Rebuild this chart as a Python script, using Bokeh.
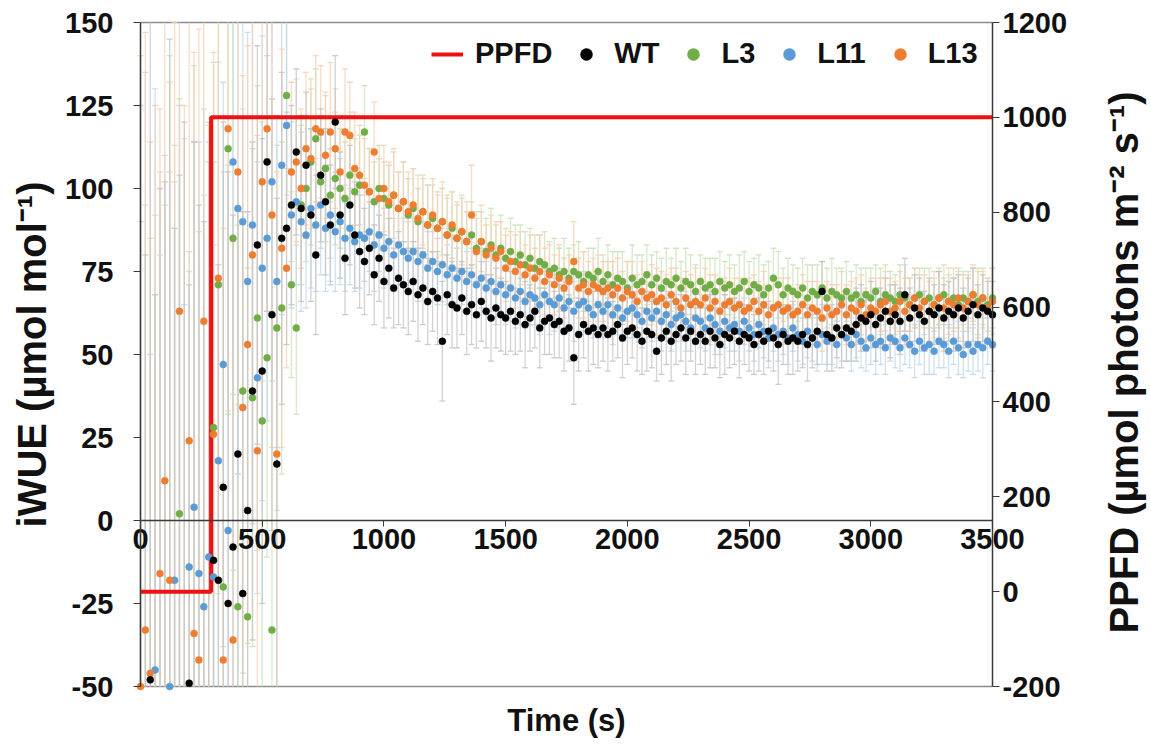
import math
from bokeh.plotting import figure
from bokeh.models import Range1d, LinearAxis, FixedTicker, Legend, LegendItem, Label
from bokeh.embed import file_html
from bokeh.resources import INLINE

# ---------------- data ----------------
time_s = list(range(0, 3501, 20))

wt = [-55, -70, -48, -62, -90, -58, -75, -52, -66, -80, -49, -71, -60, -85, -57,
      -12, -18, 10, -25, -8, 20, -22, 3, 39, 83, 45, 108, 62, 17, 85,
      88, 95, 111, 94, 107, 92, 80, 104, 96, 89, 120, 92, 79, 95, 86, 81,
      78, 82, 74, 79, 72, 76, 70, 73, 71,
      69, 72, 68, 70, 66, 69, 67, 54, 68, 65,
      64, 67, 63, 65, 62, 66, 63, 61, 64, 62,
      61, 63, 60, 62, 59, 61, 63, 58, 60, 61,
      59, 60, 57, 58, 49, 56, 59, 57, 58, 56,
      58, 56, 57, 59, 55, 57, 58, 56, 54, 57,
      56, 51, 55, 57, 54, 56, 58, 55, 57, 54,
      56, 54, 57, 55, 53, 56, 55, 57, 54, 56,
      55, 53, 56, 54, 57, 55, 53, 56, 54, 55,
      54, 56, 53, 55, 57, 69, 56, 55, 58, 56,
      58, 57, 59, 61, 60, 62, 59, 61, 63, 60,
      62, 60, 68, 61, 64, 62, 60, 63, 62, 64,
      61, 63, 62, 64, 61, 63, 65, 62, 64, 63,
      62]
wt_err = [180, 150, 210, 130, 190, 160, 220, 140, 170, 200, 120, 185, 155, 175, 165,
          120, 95, 110, 130, 100, 85, 115, 90, 75, 60, 70, 45, 65, 80, 50,
          35, 30, 25, 28, 22, 26, 24, 20, 22, 18, 20, 19, 17, 18, 16, 17,
          16, 14, 15, 13, 14, 15, 12, 14, 13,
          13, 12, 14, 11, 13, 12, 14, 18, 12, 13,
          12, 11, 13, 12, 10, 12, 11, 13, 12, 11,
          11, 12, 10, 11, 13, 10, 11, 12, 10, 11,
          10, 11, 12, 10, 14, 11, 10, 12, 11, 10,
          10, 11, 9, 10, 12, 10, 9, 11, 10, 12,
          10, 9, 11, 10, 12, 9, 10, 11, 9, 10,
          9, 10, 11, 9, 10, 12, 9, 10, 11, 9,
          10, 9, 11, 10, 9, 10, 12, 9, 10, 11,
          9, 10, 11, 9, 10, 9, 11, 10, 9, 10,
          10, 9, 11, 10, 9, 10, 11, 9, 10, 11,
          9, 10, 11, 9, 10, 11, 9, 10, 9, 11,
          10, 9, 11, 10, 9, 10, 11, 9, 10, 9,
          10]

l3 = [-60, -75, -55, -68, -85, -55, -70, -62, 2, -65, -90, -58, -58, -72, -66,
      28, 71, -20, 112, 85, -26, 39, -29, 37, 61, 30, 49, -33, 58, 64,
      128, 71, 58, 95, 100, 108, 115, 102, 106, 98, 103, 100, 97, 104, 99, 101,
      117, 99, 96, 100, 97, 95, 98, 94, 96,
      92, 94, 90, 93, 89, 91, 88, 90, 86, 88,
      85, 87, 84, 86, 82, 84, 81, 83, 80, 82,
      79, 81, 78, 80, 77, 79, 76, 78, 77, 75,
      76, 74, 75, 73, 75, 74, 72, 74, 73, 75,
      72, 74, 71, 73, 72, 70, 73, 71, 72, 74,
      71, 73, 70, 72, 71, 73, 70, 72, 71, 69,
      72, 70, 71, 69, 72, 70, 71, 69, 70, 72,
      69, 71, 70, 68, 70, 73, 71, 68, 70, 69,
      68, 70, 67, 69, 68, 70, 67, 69, 68, 67,
      69, 67, 68, 66, 68, 67, 69, 66, 68, 67,
      66, 68, 67, 65, 67, 68, 66, 67, 65, 67,
      68, 66, 67, 65, 67, 66, 68, 66, 67, 65,
      67]
l3_err = [200, 170, 140, 160, 190, 150, 210, 175, 125, 180, 165, 195, 145, 170, 185,
          110, 90, 125, 80, 100, 115, 85, 105, 75, 70, 90, 60, 95, 55, 50,
          30, 28, 26, 24, 22, 25, 21, 20, 22, 19, 20, 18, 17, 19, 16, 15,
          14, 13, 12, 13, 11, 12, 13, 11, 12,
          11, 12, 10, 11, 12, 10, 11, 10, 12, 11,
          10, 11, 9, 10, 11, 9, 10, 11, 9, 10,
          9, 10, 11, 9, 10, 9, 10, 8, 10, 9,
          9, 8, 10, 9, 8, 10, 9, 8, 9, 10,
          8, 9, 10, 8, 9, 8, 10, 9, 8, 9,
          9, 8, 9, 10, 8, 9, 8, 10, 9, 8,
          8, 9, 8, 10, 9, 8, 9, 8, 10, 9,
          9, 8, 10, 9, 8, 9, 10, 8, 9, 8,
          8, 9, 10, 8, 9, 8, 9, 10, 8, 9,
          9, 8, 9, 10, 8, 9, 8, 10, 9, 8,
          8, 9, 10, 8, 9, 8, 10, 9, 8, 9,
          9, 8, 9, 10, 8, 9, 8, 10, 9, 8,
          9]

l11 = [-70, -55, -80, -45, -65, -90, -50, -18, -60, -75, -14, 4, -16, -26, -11,
       -17, 18, 47, -3, 108, 94, 90, 72, 89, 43, 76, 85, 102, 72, 107,
       119, 92, 96, 90, 86, 94, 89, 95, 88, 92, 87, 90, 85, 88, 84, 86,
       85, 87, 83, 86, 82, 84, 80, 83, 81,
       79, 81, 78, 80, 76, 78, 75, 77, 74, 76,
       73, 75, 72, 74, 71, 73, 70, 72, 69, 71,
       68, 70, 67, 69, 66, 68, 67, 65, 68, 66,
       65, 67, 64, 66, 63, 65, 66, 64, 62, 65,
       63, 65, 62, 64, 61, 63, 64, 62, 60, 63,
       61, 63, 60, 62, 59, 61, 62, 60, 58, 61,
       60, 58, 61, 59, 57, 60, 58, 59, 57, 60,
       58, 56, 59, 57, 55, 58, 56, 57, 55, 58,
       56, 54, 57, 55, 53, 56, 54, 55, 53, 56,
       55, 53, 56, 54, 52, 55, 53, 54, 52, 55,
       54, 52, 55, 53, 51, 54, 52, 53, 51, 54,
       53, 51, 54, 52, 50, 53, 51, 53, 52, 54,
       53]
l11_err = [160, 190, 130, 175, 145, 200, 155, 120, 185, 140, 95, 110, 130, 150, 125,
           100, 120, 85, 110, 70, 80, 95, 75, 90, 65, 70, 55, 60, 50, 45,
           32, 28, 25, 27, 22, 24, 20, 21, 19, 20, 18, 19, 16, 17, 15, 16,
           13, 12, 14, 11, 12, 13, 11, 12, 10,
           11, 10, 12, 10, 11, 9, 10, 11, 9, 10,
           9, 10, 9, 8, 10, 9, 8, 9, 10, 8,
           9, 8, 9, 10, 8, 9, 8, 9, 8, 10,
           8, 9, 8, 7, 9, 8, 9, 8, 7, 9,
           8, 7, 9, 8, 7, 8, 9, 7, 8, 8,
           7, 8, 9, 7, 8, 7, 8, 9, 7, 8,
           8, 7, 8, 9, 7, 8, 7, 8, 9, 7,
           7, 8, 7, 8, 9, 7, 8, 7, 8, 7,
           8, 7, 8, 7, 8, 9, 7, 8, 7, 8,
           7, 8, 7, 8, 7, 8, 9, 7, 8, 7,
           8, 7, 8, 7, 8, 7, 8, 9, 7, 8,
           7, 8, 7, 8, 7, 8, 7, 8, 9, 7,
           8]

l13 = [-50, -33, -46, -70, -16, 12, -18, -55, 63, -60, 24, -34, -42, 60, -80,
       26, 73, -42, 118, -36, 105, 34, 53, 80, 21, 102, 118, 92, 20, 82,
       76, 105, 108, 100, 112, 109, 118, 117, 110, 117, 112, 105, 117, 116, 106, 104,
       101, 99, 111, 97, 100, 96, 98, 94, 96,
       93, 95, 91, 93, 89, 92, 88, 90, 86, 89,
       85, 87, 84, 92, 81, 84, 80, 82, 79, 81,
       76, 78, 75, 77, 74, 76, 73, 75, 72, 74,
       71, 73, 70, 72, 78, 70, 71, 69, 71, 70,
       69, 70, 68, 70, 67, 69, 68, 66, 69, 67,
       68, 66, 67, 65, 68, 66, 64, 67, 65, 66,
       65, 67, 64, 66, 63, 65, 66, 64, 65, 63,
       64, 66, 63, 65, 62, 64, 65, 63, 64, 62,
       63, 65, 62, 64, 63, 61, 64, 62, 63, 65,
       62, 64, 63, 65, 62, 64, 63, 65, 66, 63,
       64, 66, 63, 65, 67, 64, 66, 63, 65, 67,
       64, 66, 65, 67, 64, 66, 68, 65, 67, 64,
       66]
l13_err = [210, 180, 160, 195, 140, 170, 150, 205, 130, 185, 165, 175, 190, 145, 200,
           115, 95, 130, 85, 120, 70, 100, 90, 80, 95, 60, 55, 70, 85, 60,
           30, 27, 25, 24, 23, 21, 22, 20, 19, 21, 18, 17, 19, 16, 17, 15,
           14, 13, 15, 12, 13, 12, 14, 11, 12,
           12, 11, 13, 10, 12, 11, 10, 12, 11, 10,
           11, 10, 12, 15, 10, 11, 9, 10, 11, 9,
           10, 9, 11, 10, 9, 10, 9, 11, 10, 9,
           9, 10, 9, 8, 12, 9, 10, 9, 8, 10,
           9, 8, 10, 9, 8, 9, 10, 8, 9, 8,
           9, 10, 8, 9, 8, 10, 9, 8, 9, 10,
           8, 9, 10, 8, 9, 8, 10, 9, 8, 9,
           9, 8, 9, 10, 8, 9, 8, 10, 9, 8,
           8, 9, 10, 8, 9, 10, 8, 9, 8, 10,
           9, 8, 10, 9, 8, 9, 10, 8, 9, 10,
           8, 9, 10, 8, 9, 10, 8, 9, 10, 8,
           9, 10, 8, 9, 10, 8, 9, 10, 8, 9,
           10]

ppfd_time = [0, 290, 3500]
ppfd_value = [0, 1000, 1000]

x_ticks = [0, 500, 1000, 1500, 2000, 2500, 3000, 3500]
y_ticks = [-50, -25, 0, 25, 50, 75, 100, 125, 150]
ppfd_ticks = [-200, 0, 200, 400, 600, 800, 1000, 1200]

series = [
    ("L3", l3, l3_err, "#70AD47", "#C9E2B8"),
    ("L11", l11, l11_err, "#5B9BD5", "#BFD7EE"),
    ("L13", l13, l13_err, "#ED7D31", "#F8CFB2"),
    ("WT", wt, wt_err, "#000000", "#C4C4C4"),
]

# ---------------- layout ----------------
W, H = 1151, 748
X0, X1 = 0, 3500          # plotted time span
Y0, Y1 = -50, 150         # iWUE axis span
P0, P1 = -200, 1200       # PPFD axis span
BOX_L, BOX_R, BOX_T, BOX_B = 140, 992, 22, 686   # box in canvas pixels

xs = (X1 - X0) / (BOX_R - BOX_L)
ys = (Y1 - Y0) / (BOX_B - BOX_T)
ps = (P1 - P0) / (BOX_B - BOX_T)

FONT = "Liberation Sans"
TXT = "#111111"
AX = "#3a3a3a"

p = figure(width=W, height=H, output_backend="svg", toolbar_location=None,
           x_range=Range1d(X0 - BOX_L * xs, X1 + (W - BOX_R) * xs),
           y_range=Range1d(Y0 - (H - BOX_B) * ys, Y1 + BOX_T * ys),
           min_border=0, min_border_left=0, min_border_right=0,
           min_border_top=0, min_border_bottom=0)
p.extra_y_ranges = {"ppfd": Range1d(P0 - (H - BOX_B) * ps, P1 + BOX_T * ps)}
p.xgrid.visible = False
p.ygrid.visible = False
p.outline_line_color = None
p.background_fill_color = "white"
p.border_fill_color = "white"

# top and bottom edges of the box
p.segment(x0=[X0, X0], y0=[Y0, Y1], x1=[X1, X1], y1=[Y0, Y1],
          line_color="#8c8c8c", line_width=1.5)

# x axis crossing at iWUE = 0
xa = p.xaxis[0]
xa.fixed_location = 0
xa.bounds = (X0, X1)
xa.ticker = FixedTicker(ticks=x_ticks)
xa.axis_line_color = AX
xa.axis_line_width = 1.5
xa.major_tick_line_color = AX
xa.major_tick_out = 6
xa.major_tick_in = 0
xa.minor_tick_line_color = None
xa.major_label_standoff = 2

ya = p.yaxis[0]
ya.fixed_location = X0
ya.bounds = (Y0, Y1)
ya.ticker = FixedTicker(ticks=y_ticks)
ya.major_label_overrides = {t: str(t) for t in y_ticks}
ya.axis_label = "iWUE (µmol mol⁻¹)"
ya.major_label_standoff = 20
ya.axis_label_standoff = 8

yr = LinearAxis(y_range_name="ppfd", ticker=FixedTicker(ticks=ppfd_ticks))
yr.fixed_location = X1
yr.bounds = (P0, P1)
yr.major_label_overrides = {t: str(t) for t in ppfd_ticks}
yr.major_label_standoff = 3
p.add_layout(yr, "right")

for ax in (ya, yr):
    ax.axis_line_color = AX
    ax.axis_line_width = 1.5
    ax.major_tick_line_color = AX
    ax.major_tick_out = 7
    ax.major_tick_in = 0
    ax.minor_tick_line_color = None

for ax in (xa, ya, yr):
    ax.major_label_text_font = FONT
    ax.major_label_text_font_style = "bold"
    ax.major_label_text_font_size = "29px"
    ax.major_label_text_color = TXT
    ax.axis_label_text_font = FONT
    ax.axis_label_text_font_style = "bold"
    ax.axis_label_text_font_size = "40px"
    ax.axis_label_text_color = TXT

# axis titles placed as text
p.add_layout(Label(x=(X0 + X1) / 2, y=Y0, y_offset=-34, text="Time (s)",
                   text_align="center", text_baseline="middle",
                   text_font=FONT, text_font_style="bold",
                   text_font_size="31px", text_color=TXT))
p.add_layout(Label(x=X1, y=(Y0 + Y1) / 2, x_offset=131, y_offset=-8,
                   text="PPFD (µmol photons m⁻² s⁻¹)", angle=math.pi / 2,
                   text_align="center", text_baseline="middle",
                   text_font=FONT, text_font_style="bold",
                   text_font_size="40px", text_color=TXT))

# error bars (cut at the box edges, like the frame of the original)
for name, vals, errs, col, light in series:
    sx, lo, hi, cx, cy = [], [], [], [], []
    for t, v, e in zip(time_s, vals, errs):
        a, b = max(v - e, Y0), min(v + e, Y1)
        if a < b:
            sx.append(t); lo.append(a); hi.append(b)
        if Y0 <= v - e <= Y1:
            cx.append(t); cy.append(v - e)
        if Y0 <= v + e <= Y1:
            cx.append(t); cy.append(v + e)
    p.segment(x0=sx, y0=lo, x1=sx, y1=hi, line_color=light,
              line_width=1.3, line_alpha=0.75)
    p.scatter(x=cx, y=cy, marker="dash", size=6,
              line_color=light, line_width=1.3, line_alpha=0.85)

# PPFD step line
ppfd_r = p.step(x=ppfd_time, y=ppfd_value, mode="after", y_range_name="ppfd",
                line_color="#EE1111", line_width=4)

# points (only those inside the box)
point_r = {}
for name, vals, errs, col, light in series:
    px = [t for t, v in zip(time_s, vals) if Y0 <= v <= Y1]
    py = [v for v in vals if Y0 <= v <= Y1]
    point_r[name] = p.scatter(x=px, y=py, size=7, fill_color=col,
                              line_color=col, line_width=0.5)

legend = Legend(items=[
    LegendItem(label="PPFD", renderers=[ppfd_r]),
    LegendItem(label="WT", renderers=[point_r["WT"]]),
    LegendItem(label="L3", renderers=[point_r["L3"]]),
    LegendItem(label="L11", renderers=[point_r["L11"]]),
    LegendItem(label="L13", renderers=[point_r["L13"]]),
], orientation="horizontal", location=(431, 678))
legend.margin = 0
legend.padding = 10
legend.spacing = 18
legend.label_standoff = 12
legend.glyph_width = 32
legend.glyph_height = 30
legend.border_line_color = None
legend.background_fill_alpha = 0
legend.label_text_font = FONT
legend.label_text_font_style = "bold"
legend.label_text_font_size = "29px"
legend.label_text_color = TXT
p.add_layout(legend, "center")

open("out.html", "w").write(file_html(p, INLINE))
